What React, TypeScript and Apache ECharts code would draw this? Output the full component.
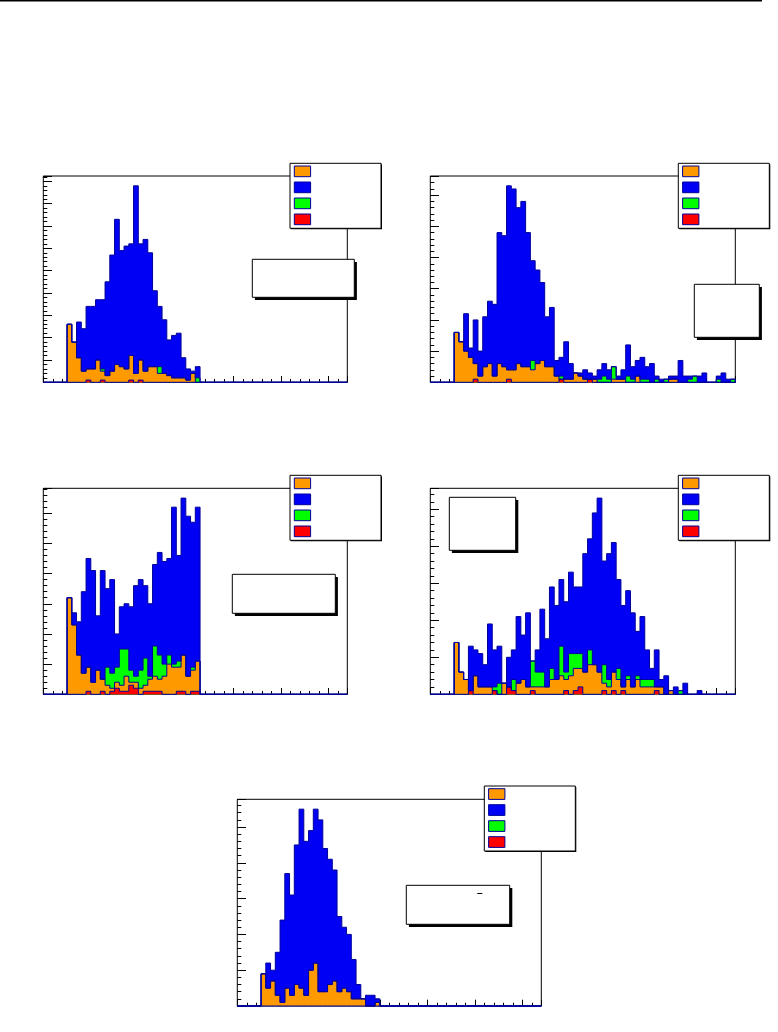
import React, { useEffect, useRef } from "react";
import * as echarts from "echarts";

// ---------- histogram binning ----------
const BIN_WIDTH = 5;
const N_BINS = 64;
const X_MAX = 320;
const START_BIN = 5; // first filled bin in every panel

// ---------- panel 1 (bins 5..32) ----------
const p1Red = [0, 0, 0, 0, 1, 0, 0, 1, 0, 0, 0, 0, 0, 1, 0, 1, 0, 0, 0, 0, 0, 0, 0, 0, 0, 0, 0, 0];
const p1Orange = [26, 18, 11, 5, 5, 6, 10, 4, 3, 5, 8, 7, 6, 11, 4, 9, 5, 7, 7, 4, 4, 3, 2, 2, 2, 1, 4, 0];
const p1Green = [0, 0, 0, 0, 0, 0, 0, 1, 0, 0, 0, 0, 0, 0, 0, 0, 0, 0, 0, 3, 0, 0, 0, 0, 0, 0, 0, 2];
const p1Blue = [0, 0, 16, 19, 28, 28, 27, 31, 42, 52, 65, 52, 55, 50, 84, 52, 59, 51, 34, 27, 24, 16, 19, 20, 9, 5, 1, 5];

// ---------- panel 2 (bins 5..63) ----------
const p2Red = [
  0, 0, 0, 0, 1, 0, 0, 0, 0, 0, 0, 1, 0, 0, 0, 0, 0, 0, 0, 0, 0, 0, 1, 0, 0, 0, 0, 0, 1, 0,
  0, 0, 0, 0, 0, 0, 0, 0, 0, 0, 0, 0, 0, 0, 0, 0, 0, 0, 0, 0, 0, 0, 0, 0, 0, 0, 0, 0, 0,
];
const p2Orange = [
  16, 13, 10, 8, 5, 2, 5, 6, 2, 6, 5, 3, 4, 6, 5, 5, 4, 6, 7, 5, 5, 2, 0, 1, 1, 3, 2, 1, 0, 1,
  0, 0, 0, 1, 1, 1, 0, 0, 2, 0, 0, 0, 0, 0, 0, 1, 1, 0, 0, 0, 0, 0, 0, 0, 0, 0, 0, 0, 0,
];
const p2Green = [
  0, 0, 0, 0, 0, 0, 0, 0, 0, 0, 0, 0, 0, 0, 0, 0, 3, 0, 0, 0, 0, 0, 1, 0, 0, 0, 0, 0, 0, 0,
  1, 2, 1, 4, 0, 0, 2, 1, 0, 1, 1, 0, 1, 0, 1, 0, 0, 0, 0, 1, 2, 0, 0, 0, 0, 1, 0, 0, 1,
];
const p2Blue = [
  0, 0, 12, 3, 14, 8, 16, 20, 23, 42, 42, 59, 58, 50, 53, 43, 32, 30, 25, 16, 19, 5, 6, 12, 5, 0, 1, 3, 2, 1,
  3, 4, 3, 0, 1, 3, 10, 4, 5, 7, 4, 6, 1, 1, 0, 1, 1, 7, 2, 1, 0, 2, 3, 0, 0, 1, 3, 1, 0,
];

// ---------- panel 3 (bins 5..32) ----------
const p3Red = [0, 0, 0, 0, 1, 0, 0, 1, 0, 1, 2, 1, 1, 3, 2, 0, 1, 1, 1, 1, 0, 0, 0, 1, 1, 0, 1, 1];
const p3Orange = [32, 23, 13, 7, 8, 4, 8, 4, 3, 1, 2, 2, 5, 1, 2, 2, 2, 4, 5, 4, 6, 10, 9, 8, 12, 6, 7, 10];
const p3Green = [0, 0, 0, 0, 0, 0, 0, 0, 6, 5, 5, 12, 9, 4, 2, 6, 9, 1, 10, 8, 4, 3, 1, 2, 0, 0, 1, 0];
const p3Blue = [0, 4, 11, 27, 36, 37, 18, 36, 26, 31, 11, 14, 15, 21, 30, 30, 24, 24, 27, 34, 34, 32, 52, 35, 52, 53, 48, 51];

// ---------- panel 4 (bins 5..56) ----------
const p4Red = [
  0, 0, 0, 1, 0, 0, 0, 0, 1, 0, 0, 2, 1, 0, 0, 0, 1, 0, 0, 0, 0, 0, 0, 1, 0, 1,
  2, 0, 0, 0, 0, 1, 0, 1, 0, 1, 0, 0, 0, 0, 0, 0, 1, 0, 0, 0, 0, 0, 0, 0, 0, 0,
];
const p4Orange = [
  14, 6, 4, 0, 5, 2, 2, 2, 0, 0, 3, 0, 0, 3, 4, 2, 1, 2, 2, 2, 4, 4, 5, 3, 5, 6,
  5, 6, 8, 8, 6, 2, 2, 5, 4, 1, 4, 2, 4, 2, 2, 2, 1, 2, 0, 1, 0, 0, 0, 0, 0, 0,
];
const p4Green = [
  0, 0, 0, 0, 0, 0, 0, 0, 1, 3, 0, 0, 3, 0, 0, 0, 7, 4, 4, 0, 3, 0, 8, 2, 6, 4,
  4, 0, 4, 0, 0, 5, 2, 0, 3, 0, 1, 0, 1, 2, 2, 2, 0, 0, 0, 0, 0, 1, 0, 0, 0, 0,
];
const p4Blue = [
  0, 0, 0, 12, 7, 9, 6, 17, 10, 10, 0, 8, 8, 18, 12, 20, 0, 6, 17, 13, 22, 20, 18, 19, 22, 18,
  18, 32, 30, 41, 47, 28, 34, 35, 24, 22, 23, 20, 12, 17, 8, 3, 10, 2, 5, 0, 2, 0, 3, 0, 0, 1,
];

// ---------- panel 5 (bins 5..29) ----------
const p5Red = [0, 0, 0, 0, 0, 0, 0, 0, 0, 0, 0, 0, 0, 0, 0, 0, 0, 0, 0, 0, 0, 0, 0, 0, 0];
const p5Orange = [9, 5, 7, 3, 1, 5, 3, 6, 5, 3, 10, 12, 4, 4, 6, 7, 4, 5, 4, 2, 2, 2, 0, 0, 1];
const p5Green = [0, 0, 0, 0, 0, 0, 0, 0, 0, 0, 0, 0, 0, 0, 0, 0, 0, 0, 0, 0, 0, 0, 0, 0, 0];
const p5Blue = [0, 7, 3, 12, 23, 32, 28, 39, 50, 43, 39, 43, 48, 40, 35, 31, 21, 17, 16, 11, 4, 0, 3, 3, 1];

// ---------- styling ----------
const COL_RED = "#ff0000";
const COL_ORANGE = "#ff9900";
const COL_GREEN = "#00ff00";
const COL_BLUE = "#0000f4";
const OUTLINE = "#00009a";
const LEGEND_COLORS = [COL_ORANGE, COL_BLUE, COL_GREEN, COL_RED];

const PANELS = [
  { red: p1Red, orange: p1Orange, green: p1Green, blue: p1Blue,
    grid: { left: 43.3, top: 176, width: 304, height: 206.3 },
    legend: { x: 290, y: 163.3 }, stat: { x: 252.3, y: 259.3, w: 102, h: 38 } },
  { red: p2Red, orange: p2Orange, green: p2Green, blue: p2Blue,
    grid: { left: 430.3, top: 176, width: 305, height: 206.3 },
    legend: { x: 678.3, y: 163.3 }, stat: { x: 694.3, y: 284.3, w: 65, h: 53 } },
  { red: p3Red, orange: p3Orange, green: p3Green, blue: p3Blue,
    grid: { left: 43.3, top: 488.3, width: 304, height: 206 },
    legend: { x: 290, y: 475.3 }, stat: { x: 232.3, y: 574.3, w: 103, h: 39 } },
  { red: p4Red, orange: p4Orange, green: p4Green, blue: p4Blue,
    grid: { left: 430.3, top: 488.3, width: 305, height: 206 },
    legend: { x: 678.3, y: 475.3 }, stat: { x: 449.3, y: 497.3, w: 66.4, h: 53 } },
  { red: p5Red, orange: p5Orange, green: p5Green, blue: p5Blue,
    grid: { left: 237.3, top: 799.3, width: 304, height: 206.7 },
    legend: { x: 484.3, y: 786 }, stat: { x: 406.3, y: 885.3, w: 103.4, h: 39 } },
];

function padBins(vals: number[]): number[] {
  const out = new Array(N_BINS).fill(0);
  vals.forEach((v, i) => {
    out[START_BIN + i] = v;
  });
  return out;
}

function stepData(vals: number[]): number[][] {
  const pts: number[][] = [[0, 0]];
  vals.forEach((v, i) => pts.push([i * BIN_WIDTH, v]));
  pts.push([X_MAX, vals[vals.length - 1]]);
  pts.push([X_MAX, 0]);
  return pts;
}

function buildOption() {
  const grid: any[] = [];
  const xAxis: any[] = [];
  const yAxis: any[] = [];
  const series: any[] = [];
  const graphic: any[] = [];

  const tickAxis = (gi: number, interval: number, length: number, max: number, pos: string) => ({
    gridIndex: gi,
    type: "value",
    min: 0,
    max,
    interval,
    position: pos,
    axisLine: { show: false, onZero: false },
    axisLabel: { show: false },
    splitLine: { show: false },
    axisTick: { show: true, inside: true, length, lineStyle: { color: "#000", width: 1 } },
  });

  PANELS.forEach((p, gi) => {
    grid.push({
      ...p.grid,
      show: true,
      borderColor: "#000",
      borderWidth: 1,
      backgroundColor: "transparent",
      containLabel: false,
    });
    const r = padBins(p.red);
    const o = padBins(p.orange);
    const g = padBins(p.green);
    const b = padBins(p.blue);
    const cumRed = r;
    const cumOrange = r.map((v, i) => v + o[i]);
    const cumGreen = cumOrange.map((v, i) => v + g[i]);
    const cumTotal = cumGreen.map((v, i) => v + b[i]);
    const yMax = Math.max(...cumTotal) * 1.05;

    xAxis.push(tickAxis(gi, 50, 6.3, X_MAX, "bottom"));
    xAxis.push(tickAxis(gi, 10, 3.3, X_MAX, "bottom"));
    yAxis.push(tickAxis(gi, 10, 8.7, yMax, "left"));
    yAxis.push(tickAxis(gi, 2, 4, yMax, "left"));

    const layers: [number[], string][] = [
      [cumTotal, COL_BLUE],
      [cumGreen, COL_GREEN],
      [cumOrange, COL_ORANGE],
      [cumRed, COL_RED],
    ];
    layers.forEach(([vals, color]) => {
      series.push({
        type: "line",
        xAxisIndex: gi * 2,
        yAxisIndex: gi * 2,
        data: stepData(vals),
        step: "end",
        symbol: "none",
        showSymbol: false,
        clip: false,
        silent: true,
        lineStyle: { color: OUTLINE, width: 1 },
        itemStyle: { color },
        areaStyle: { color, opacity: 1 },
        emphasis: { disabled: true },
      });
    });

    // legend box
    const L = p.legend;
    graphic.push({ type: "rect", z: 100, shape: { x: L.x + 1, y: L.y + 1, width: 91, height: 65 }, style: { fill: "#000" } });
    graphic.push({ type: "rect", z: 101, shape: { x: L.x, y: L.y, width: 91, height: 65 }, style: { fill: "#fff", stroke: "#000", lineWidth: 1 } });
    LEGEND_COLORS.forEach((c, i) => {
      graphic.push({
        type: "rect",
        z: 102,
        shape: { x: L.x + 4.3, y: L.y + 2.7 + 16 * i, width: 16.3, height: 10.7 },
        style: { fill: c, stroke: OUTLINE, lineWidth: 1 },
      });
    });

    // stats box
    const S = p.stat;
    graphic.push({ type: "rect", z: 100, shape: { x: S.x + 2.6, y: S.y + 2.6, width: S.w, height: S.h }, style: { fill: "#000" } });
    graphic.push({ type: "rect", z: 101, shape: { x: S.x, y: S.y, width: S.w, height: S.h }, style: { fill: "#fff", stroke: "#000", lineWidth: 1 } });
  });

  // small mark inside panel 5 stats box
  graphic.push({ type: "line", z: 103, shape: { x1: 477.3, y1: 893.5, x2: 482.3, y2: 893.5 }, style: { stroke: "#000", lineWidth: 1 } });
  // page top rule
  graphic.push({ type: "line", z: 103, shape: { x1: 0, y1: 0.8, x2: 762, y2: 0.8 }, style: { stroke: "#000", lineWidth: 1.5 } });

  return {
    animation: false,
    backgroundColor: "#fff",
    grid,
    xAxis,
    yAxis,
    series,
    graphic,
    tooltip: { show: false },
  };
}

export default function App() {
  const ref = useRef<HTMLDivElement>(null);
  useEffect(() => {
    if (!ref.current) return;
    const chart = echarts.init(ref.current, undefined, { renderer: "svg" });
    chart.setOption(buildOption());
    return () => chart.dispose();
  }, []);
  return (
    <div style={{ position: "fixed", left: 0, top: 0, width: 778, height: 1032, background: "#fff", margin: 0 }}>
      <div ref={ref} style={{ width: 778, height: 1032 }} />
    </div>
  );
}
